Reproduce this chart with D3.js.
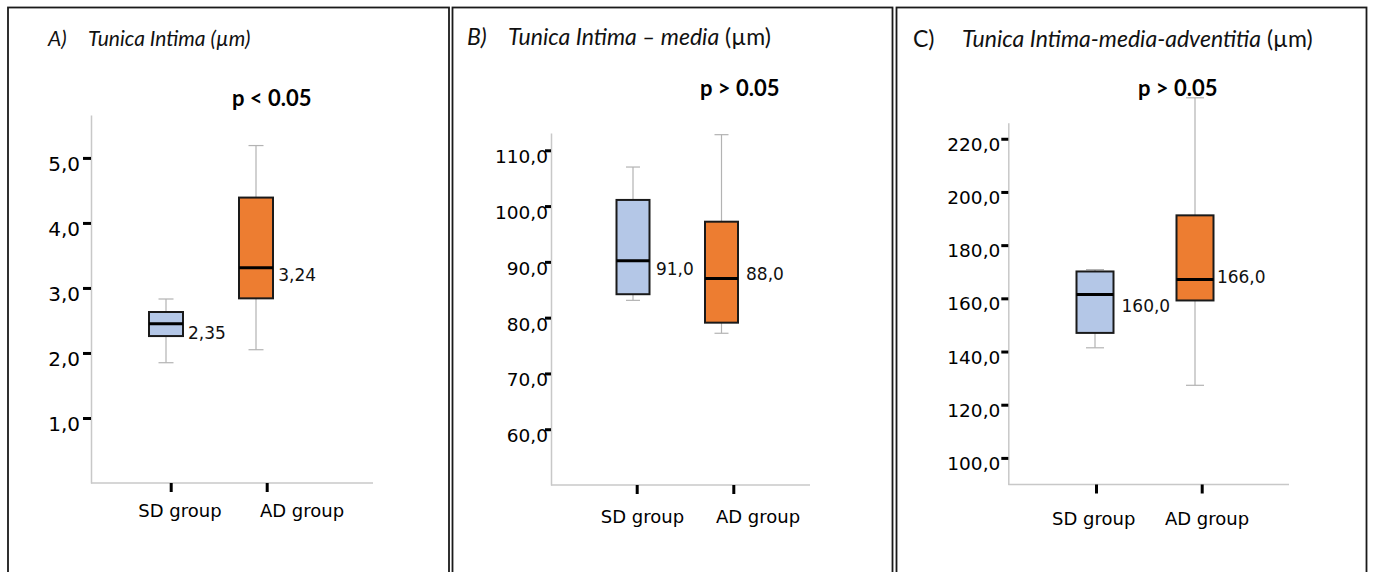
<!DOCTYPE html>
<html>
<head>
<meta charset="utf-8">
<script src="https://cdn.jsdelivr.net/npm/d3@7"></script>
<style>
  body { margin: 0; background: #fff; }
  svg { display: block; }
</style>
</head>
<body>
<svg id="chart" width="1375" height="572"></svg>
<script>
const groups = ['SD group', 'AD group'];

// five-number summaries per group: [min, q1, median, q3, max]
const intimaBoxes = [[1.85, 2.26, 2.45, 2.63, 2.83], [2.05, 2.84, 3.31, 4.39, 5.19]];
const intimaMedians = ['2,35', '3,24'];
const intimaTicks = [1, 2, 3, 4, 5];

const mediaBoxes = [[83.1, 84.2, 90.2, 101.1, 107.0], [77.2, 79.1, 87.0, 97.2, 112.8]];
const mediaMedians = ['91,0', '88,0'];
const mediaTicks = [60, 70, 80, 90, 100, 110];

const adventitiaBoxes = [[141.4, 147.0, 161.4, 170.1, 170.8], [127.3, 159.2, 167.1, 191.2, 235.4]];
const adventitiaMedians = ['160,0', '166,0'];
const adventitiaTicks = [100, 120, 140, 160, 180, 200, 220];

const panelLetters = ['A)', 'B)', 'C)'];
const panelTitles = ['Tunica Intima (µm)', 'Tunica Intima – media', 'Tunica Intima-media-adventitia'];
const pLabels = ['p < 0.05', 'p > 0.05', 'p > 0.05'];

const colors = ['#b4c7e7', '#ed7d31'];
const fmt = d => d3.format('.1f')(d).replace('.', ',');

const svg = d3.select('#chart');

// layout of each panel (pixels)
const panels = [
  {
    boxes: intimaBoxes, medians: intimaMedians, ticks: intimaTicks,
    frame: [8, 449], domain: [0, 5.66], range: [483, 115],
    axisX: 91, axisEnd: 373,
    boxX: [166, 256], boxW: 34, capW: 15,
    tickX: [170.7, 266.7], catX: [180, 302], catY: 517,
    tickSize: 8, tickPad: 3, tickFont: 20, tickDy: '0.63em',
    medOff: [[5, 15], [5.3, 13.7]],
    letterX: 48, letterItalic: true, titleX: 88, titleY: 46, titleSize: 21, unit: '',
    pX: 232, pY: 106
  },
  {
    boxes: mediaBoxes, medians: mediaMedians, ticks: mediaTicks,
    frame: [452.5, 892.5], domain: [50, 113.1], range: [485, 133],
    axisX: 551, axisEnd: 810,
    boxX: [633, 721.5], boxW: 33, capW: 14,
    tickX: [636.7, 733.3], catX: [642.5, 758], catY: 523,
    tickSize: 6, tickPad: -3, tickFont: 18.5, tickDy: '0.67em',
    medOff: [[6.4, 14], [8, 1.4]],
    letterX: 467, letterItalic: true, titleX: 508, titleY: 45, titleSize: 23, unit: ' (µm)',
    pX: 700, pY: 96
  },
  {
    boxes: adventitiaBoxes, medians: adventitiaMedians, ticks: adventitiaTicks,
    frame: [896.5, 1366.5], domain: [90, 226], range: [484.5, 122.8],
    axisX: 1008.3, axisEnd: 1289,
    boxX: [1095, 1195], boxW: 37, capW: 18,
    tickX: [1096, 1201.7], catX: [1093.7, 1207], catY: 525,
    tickSize: 7, tickPad: 1, tickFont: 18.5, tickDy: '0.62em',
    medOff: [[8, 17.7], [3.4, 3.3]],
    letterX: 913, letterItalic: false, titleX: 962, titleY: 47, titleSize: 23, unit: ' (µm)',
    pX: 1138, pY: 96
  }
];

panels.forEach((p, i) => {
  // frame
  svg.append('rect')
    .attr('x', p.frame[0]).attr('y', 7.5)
    .attr('width', p.frame[1] - p.frame[0]).attr('height', 600)
    .attr('fill', 'none').attr('stroke', '#1a1a1a').attr('stroke-width', 1.8);

  // title
  const title = svg.append('text')
    .attr('y', p.titleY)
    .attr('font-family', 'Lato, sans-serif')
    .attr('font-size', p.titleSize)
    .attr('fill', '#111');
  title.append('tspan').attr('x', p.letterX)
    .attr('font-style', p.letterItalic ? 'italic' : 'normal')
    .text(panelLetters[i]);
  title.append('tspan').attr('x', p.titleX)
    .attr('font-style', 'italic')
    .text(panelTitles[i]);
  if (p.unit) title.append('tspan').attr('font-style', 'normal').text(p.unit);

  svg.append('text')
    .attr('x', p.pX).attr('y', p.pY)
    .attr('font-family', 'Lato, sans-serif')
    .attr('font-weight', 'bold')
    .attr('font-size', 22)
    .attr('fill', '#000')
    .text(pLabels[i]);

  const y = d3.scaleLinear().domain(p.domain).range(p.range);
  const x = d3.scalePoint().domain(groups).range(p.boxX);
  const xTick = d3.scalePoint().domain(groups).range(p.tickX);
  const xCat = d3.scalePoint().domain(groups).range(p.catX);

  // y axis
  const yAxis = d3.axisLeft(y)
    .tickValues(p.ticks)
    .tickSize(p.tickSize)
    .tickSizeOuter(0)
    .tickPadding(p.tickPad)
    .tickFormat(fmt);
  const ag = svg.append('g')
    .attr('transform', `translate(${p.axisX},0)`)
    .call(yAxis);
  ag.select('.domain').attr('stroke', '#c8c8c8').attr('stroke-width', 1.5);
  ag.selectAll('.tick line').attr('stroke', '#000').attr('stroke-width', 3);
  ag.selectAll('.tick text')
    .attr('font-family', 'DejaVu Sans, sans-serif')
    .attr('font-size', p.tickFont)
    .attr('fill', '#000')
    .attr('dy', p.tickDy);

  // x axis baseline + category ticks
  svg.append('line')
    .attr('x1', p.axisX).attr('x2', p.axisEnd)
    .attr('y1', p.range[0]).attr('y2', p.range[0])
    .attr('stroke', '#c8c8c8').attr('stroke-width', 1.5);
  const xg = svg.append('g')
    .attr('transform', `translate(0,${p.range[0]})`)
    .call(d3.axisBottom(xTick).tickSize(9).tickFormat(''));
  xg.select('.domain').remove();
  xg.selectAll('.tick line').attr('stroke', '#000').attr('stroke-width', 3);

  svg.selectAll(null)
    .data(groups)
    .enter()
    .append('text')
    .attr('x', d => xCat(d))
    .attr('y', p.catY)
    .attr('text-anchor', 'middle')
    .attr('font-family', 'DejaVu Sans, sans-serif')
    .attr('font-size', 18)
    .attr('fill', '#000')
    .text(d => d);

  // boxes
  const bx = svg.selectAll(null)
    .data(p.boxes.map((b, k) => ({ g: groups[k], b, k })))
    .enter()
    .append('g');

  const whisk = '#b3b3b3';
  bx.append('line')
    .attr('x1', d => x(d.g)).attr('x2', d => x(d.g))
    .attr('y1', d => y(d.b[4])).attr('y2', d => y(d.b[3]))
    .attr('stroke', whisk).attr('stroke-width', 1.2);
  bx.append('line')
    .attr('x1', d => x(d.g)).attr('x2', d => x(d.g))
    .attr('y1', d => y(d.b[1])).attr('y2', d => y(d.b[0]))
    .attr('stroke', whisk).attr('stroke-width', 1.2);
  [0, 4].forEach(j => {
    bx.append('line')
      .attr('x1', d => x(d.g) - p.capW / 2).attr('x2', d => x(d.g) + p.capW / 2)
      .attr('y1', d => y(d.b[j])).attr('y2', d => y(d.b[j]))
      .attr('stroke', whisk).attr('stroke-width', 1.2);
  });

  bx.append('rect')
    .attr('x', d => x(d.g) - p.boxW / 2)
    .attr('y', d => y(d.b[3]))
    .attr('width', p.boxW)
    .attr('height', d => y(d.b[1]) - y(d.b[3]))
    .attr('fill', d => colors[d.k])
    .attr('stroke', '#1a1a1a')
    .attr('stroke-width', 2);

  bx.append('line')
    .attr('x1', d => x(d.g) - p.boxW / 2).attr('x2', d => x(d.g) + p.boxW / 2)
    .attr('y1', d => y(d.b[2])).attr('y2', d => y(d.b[2]))
    .attr('stroke', '#000').attr('stroke-width', 3);

  bx.append('text')
    .attr('x', d => x(d.g) + p.boxW / 2 + p.medOff[d.k][0])
    .attr('y', d => y(d.b[2]) + p.medOff[d.k][1])
    .attr('font-family', 'DejaVu Sans, sans-serif')
    .attr('font-size', 17)
    .attr('fill', '#111')
    .text(d => p.medians[d.k]);
});
</script>
</body>
</html>
